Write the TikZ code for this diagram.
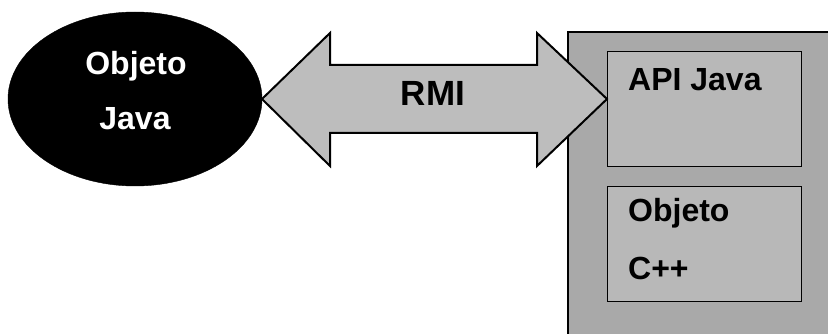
\documentclass[tikz,border=0pt]{standalone}
\usepackage{fontspec}
\setmainfont{Liberation Sans}
\usetikzlibrary{shapes.geometric}
\definecolor{arrowgray}{HTML}{BDBDBD}
\definecolor{outergray}{HTML}{A9A9A9}
\definecolor{innergray}{HTML}{B8B8B8}
\tikzset{
  lbl/.style={font=\bfseries\fontsize{32}{38}\selectfont},
  inbox/.style={draw=black, line width=1.4pt, fill=innergray},
}
\begin{document}
\begin{tikzpicture}[x=1pt,y=-1pt]
\useasboundingbox (0,0) rectangle (828,334);
\clip (0,0) rectangle (828,334);
% ellipse
\node[ellipse, fill=black, draw=black, minimum width=254pt, minimum height=174pt, inner sep=0pt] (obj) at (135,99) {};
\node[lbl, text=white, anchor=center] (objt1) at (136,66) {Objeto};
\node[lbl, text=white, anchor=center] (objt2) at (135,119) {Java};
% outer server box
\draw[fill=outergray, draw=black, line width=2pt] (568,32) rectangle (840,345);
\node[inbox, anchor=north west, minimum width=194pt, minimum height=115pt] (api) at (607,51) {};
\node[inbox, anchor=north west, minimum width=194pt, minimum height=115pt] (cpp) at (607,186) {};
\node[lbl, anchor=west, inner sep=0pt] (apit) at (628,80) {API Java};
\node[lbl, anchor=west, inner sep=0pt] (cppt1) at (628,213) {Objeto};
\node[lbl, anchor=west, inner sep=0pt] (cppt2) at (628,268) {C++};
% double arrow
\draw[fill=arrowgray, draw=black, line width=2pt, line join=miter]
  (262,99) -- (330,33) -- (330,65) -- (537,65) -- (537,33) -- (607,99)
  -- (537,166) -- (537,133) -- (330,133) -- (330,166) -- cycle;
\node[lbl, font=\bfseries\fontsize{35}{40}\selectfont] (rmi) at (433,93) {RMI};
\end{tikzpicture}
\end{document}
